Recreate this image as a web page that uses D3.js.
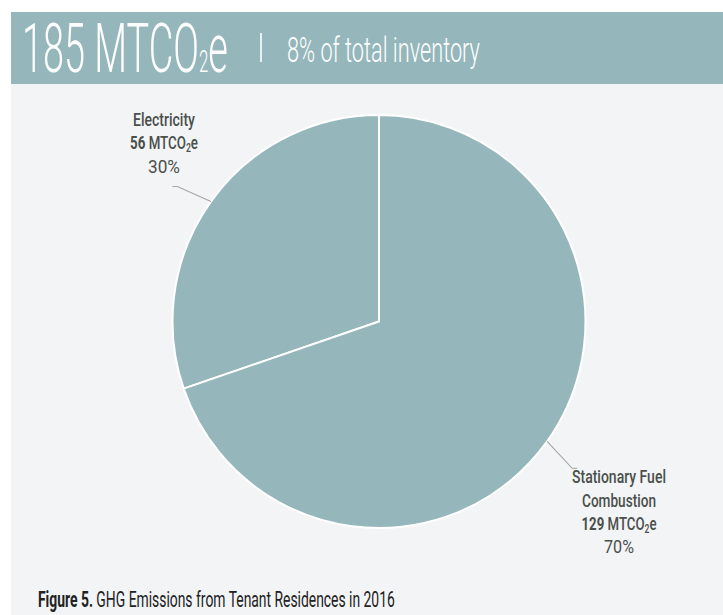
<!DOCTYPE html>
<html>
<head>
<meta charset="utf-8">
<script src="https://cdn.jsdelivr.net/npm/d3@7"></script>
<style>
  html, body { margin: 0; padding: 0; background: #ffffff; }
  svg { display: block; }
</style>
</head>
<body>
<svg id="chart" width="723" height="615"></svg>
<script>
// Emissions by source, tenant residences 2016 (MTCO2e)
const categories = ["Electricity", "Stationary Fuel Combustion"];
const values = [56, 129];
const shares = ["30%", "70%"];
const totalValue = 185;
const inventoryShare = "8%";
const captionBold = "Figure 5.";
const captionText = "GHG Emissions from Tenant Residences in 2016";

const W = 723, H = 615;
const teal = "#95b7bb";
const ink = "#4a4f4b";
const labelFont = "Roboto, 'Liberation Sans Narrow', sans-serif";

const svg = d3.select("#chart");

// squeeze a text element horizontally around its anchor so it spans `width`
function fitWidth(sel, x, width) {
  const w = sel.node().getComputedTextLength();
  const k = width / w;
  sel.attr("transform", `translate(${x},0) scale(${k},1) translate(${-x},0)`);
}

// panels
svg.append("rect").attr("x", 11).attr("y", 84).attr("width", W - 11).attr("height", H - 84)
  .attr("fill", "#f3f4f6");
svg.append("rect").attr("x", 11).attr("y", 12).attr("width", W - 11).attr("height", 72)
  .attr("fill", teal);

// header
const head = svg.append("text").attr("x", 22).attr("y", 72)
  .attr("fill", "#ffffff").attr("font-family", "Roboto, sans-serif")
  .attr("font-weight", 300).attr("font-size", 69);
head.append("tspan").text(`${totalValue} MTCO`);
head.append("tspan").attr("font-size", 31).text("2");
head.append("tspan").text("e");
fitWidth(head, 22, 206);

svg.append("line").attr("x1", 261).attr("x2", 261).attr("y1", 33).attr("y2", 62)
  .attr("stroke", "#ffffff").attr("stroke-width", 1.6);

const sub = svg.append("text").attr("x", 287).attr("y", 62)
  .attr("fill", "#ffffff").attr("font-family", "Roboto, sans-serif")
  .attr("font-weight", 300).attr("font-size", 35)
  .text(`${inventoryShare} of total inventory`);
fitWidth(sub, 287, 193);

// pie
const cx = 379, cy = 321.5, R = 206.5;
const g = svg.append("g").attr("transform", `translate(${cx},${cy})`);

const total = d3.sum(values);
const start = -2 * Math.PI * values[0] / total;
const pie = d3.pie().sort(null).value(d => d)
  .startAngle(start).endAngle(start + 2 * Math.PI);
const arcs = pie(values);
const arc = d3.arc().innerRadius(0).outerRadius(R);

g.selectAll("path.slice").data(arcs).join("path")
  .attr("class", "slice")
  .attr("d", arc)
  .attr("fill", teal)
  .attr("stroke", "#ffffff")
  .attr("stroke-width", 2)
  .attr("stroke-linejoin", "miter");

// leader lines: radial out from the slice's mid-angle, then a short horizontal tick
const outer = d3.arc().innerRadius(R).outerRadius(R);
const elbow = d3.arc().innerRadius(R * 1.175).outerRadius(R * 1.175);
arcs.forEach((a, i) => {
  const mid = (a.startAngle + a.endAngle) / 2;
  const p0 = outer.centroid(a);
  const dir = Math.sin(mid) < 0 ? -1 : 1;
  // tilt the elbow slightly toward the horizontal
  const e = elbow.centroid({ startAngle: mid + dir * 0.03, endAngle: mid + dir * 0.03 });
  const p2 = [e[0] + dir * 5, e[1]];
  g.append("polyline")
    .attr("points", [p0, e, p2].map(p => p.join(",")).join(" "))
    .attr("fill", "none").attr("stroke", "#a3a6a3").attr("stroke-width", 1.1);
});

// slice labels
function labelBlock(x, lines) {
  lines.forEach(l => {
    const t = svg.append("text").attr("x", x).attr("y", l.y)
      .attr("text-anchor", "middle").attr("fill", ink)
      .attr("font-family", labelFont).attr("font-size", 18.5)
      .attr("font-weight", l.kind === "pct" ? 400 : 500);
    if (l.kind === "value") {
      t.append("tspan").attr("font-weight", 700).text(l.value + " ");
      t.append("tspan").text("MTCO");
      t.append("tspan").attr("font-size", 12).attr("dy", 3).text("2");
      t.append("tspan").attr("dy", -3).text("e");
    } else {
      t.text(l.text);
    }
    fitWidth(t, x, l.w);
  });
}

labelBlock(164, [
  { kind: "name", text: categories[0], y: 126, w: 62 },
  { kind: "value", value: values[0], y: 149, w: 68 },
  { kind: "pct", text: shares[0], y: 173, w: 32 }
]);

const nameParts = ["Stationary Fuel", "Combustion"];
labelBlock(619, [
  { kind: "name", text: nameParts[0], y: 483, w: 94 },
  { kind: "name", text: nameParts[1], y: 507, w: 74 },
  { kind: "value", value: values[1], y: 530, w: 75 },
  { kind: "pct", text: shares[1], y: 553, w: 30 }
]);

// caption
const cap = svg.append("text").attr("x", 38).attr("y", 607)
  .attr("fill", "#222222").attr("font-family", labelFont).attr("font-size", 22.5);
cap.append("tspan").attr("font-weight", 700).text(captionBold + " ");
cap.append("tspan").attr("font-weight", 400).text(captionText);
fitWidth(cap, 38, 357);
</script>
</body>
</html>
